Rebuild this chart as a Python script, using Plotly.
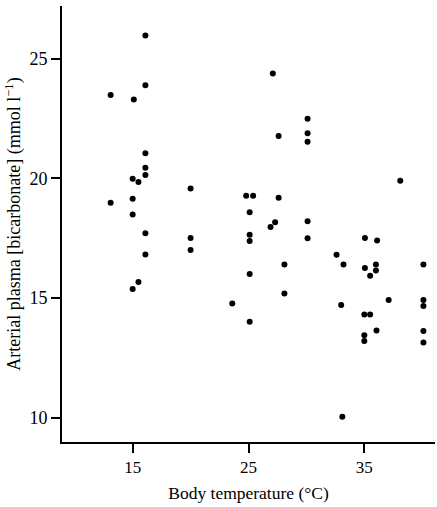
import plotly.graph_objects as go

# Body temperature (°C)
temperature = [
    13.1, 13.1, 15.1, 15.0, 15.5, 15.0, 15.0, 15.0, 15.5,
    16.1, 16.1, 16.1, 16.1, 16.1, 16.1, 16.1,
    20.0, 20.0, 20.0,
    23.6, 24.8, 25.4, 25.1, 25.1, 25.1, 25.1, 25.1,
    26.9, 27.3, 27.1, 27.6, 27.6, 28.1, 28.1,
    30.1, 30.1, 30.1, 30.1, 30.1,
    32.6, 33.2, 33.0, 33.1,
    35.05, 35.05, 35.5, 35.0, 35.5, 35.0, 35.0,
    36.0, 36.0, 36.1, 36.05, 37.1, 38.1,
    40.1, 40.1, 40.1, 40.1, 40.1,
]

# Arterial plasma [bicarbonate] (mmol l-1)
bicarbonate = [
    23.48, 18.98, 23.29, 19.98, 19.85, 19.15, 18.49, 15.37, 15.67,
    25.97, 23.89, 21.05, 20.44, 20.14, 17.70, 16.82,
    19.57, 17.50, 17.00,
    14.77, 19.27, 19.27, 18.58, 17.64, 17.38, 16.00, 14.00,
    17.96, 18.16, 24.38, 21.77, 19.19, 16.40, 15.19,
    22.49, 21.88, 21.53, 18.20, 17.49,
    16.80, 16.40, 14.70, 10.03,
    17.50, 16.25, 15.93, 14.31, 14.31, 13.44, 13.20,
    16.40, 16.15, 17.40, 13.64, 14.91, 19.90,
    16.40, 14.91, 14.66, 13.62, 13.14,
]

x_ticks = [15, 25, 35]
y_ticks = [10, 15, 20, 25]

font_family = "Liberation Serif, Times New Roman, serif"

fig = go.Figure(
    go.Scatter(
        x=temperature,
        y=bicarbonate,
        mode="markers",
        marker=dict(color="black", size=6, line=dict(width=0)),
        hoverinfo="x+y",
    )
)

fig.update_layout(
    width=437,
    height=507,
    margin=dict(l=62, r=2, t=6, b=65),
    paper_bgcolor="white",
    plot_bgcolor="white",
    showlegend=False,
    font=dict(family=font_family, color="black", size=17),
)

fig.update_xaxes(
    range=[8.9, 41.1],
    tickvals=x_ticks,
    ticktext=[str(v) for v in x_ticks],
    ticks="outside",
    ticklen=9,
    tickwidth=1.5,
    tickcolor="black",
    showline=True,
    linecolor="black",
    linewidth=1.8,
    showgrid=False,
    zeroline=False,
    tickfont=dict(size=17, family=font_family),
    title=dict(text="Body temperature (°C)", font=dict(size=17.5, family=font_family), standoff=10),
)

fig.update_yaxes(
    range=[8.98, 27.2],
    tickvals=y_ticks,
    ticktext=[str(v) for v in y_ticks],
    ticks="outside",
    ticklen=9,
    tickwidth=1.5,
    tickcolor="black",
    showline=True,
    linecolor="black",
    linewidth=1.8,
    showgrid=False,
    zeroline=False,
    tickfont=dict(size=18, family=font_family),
    title=dict(
        text="Arterial plasma [bicarbonate] (mmol l<sup>−1</sup>)",
        font=dict(size=18, family=font_family),
        standoff=4,
    ),
)

fig.write_html("out.html")
